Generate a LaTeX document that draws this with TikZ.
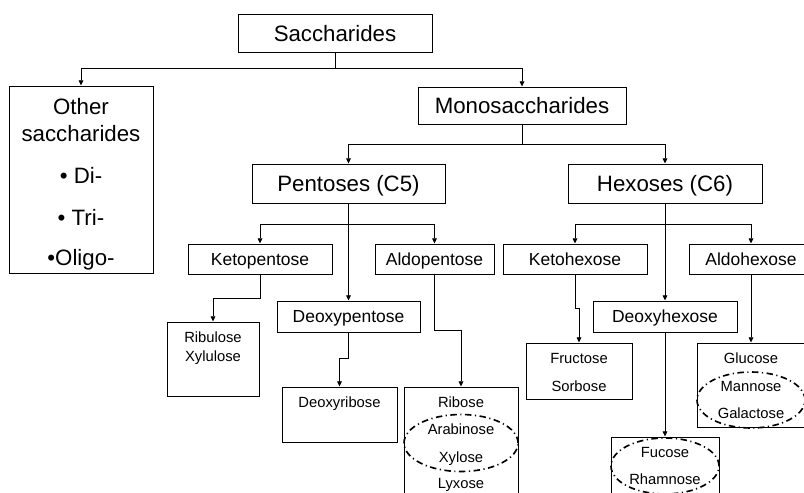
\documentclass[tikz,border=0pt]{standalone}
\usepackage{fontspec}
\setmainfont{Liberation Sans}
\usetikzlibrary{arrows.meta,shapes.geometric}

\begin{document}
\begin{tikzpicture}[x=0.03cm, y=-0.03cm, >={Triangle[length=4.5pt,width=4pt]}, line width=0.8pt,
    big/.style={draw, rectangle, inner sep=0pt, font=\fontsize{19}{23}\selectfont, text height=0.48cm, text depth=0pt},
    bigword/.style={inner sep=0pt, font=\fontsize{19}{23}\selectfont, text height=0.48cm, text depth=0pt},
    mid/.style={draw, rectangle, inner sep=0pt, font=\fontsize{14.9}{18}\selectfont, text height=0.375cm, text depth=0pt, minimum height=0.9cm},
    leaf/.style={draw, rectangle, inner sep=0pt},
    word/.style={inner sep=0pt, font=\fontsize{12.6}{15}\selectfont, text height=0.32cm, text depth=0pt},
    oval/.style={draw, ellipse, inner sep=0pt, line width=1.4pt, dash pattern=on 5.5pt off 3pt on 1pt off 3pt}]

  \useasboundingbox (0,0) rectangle (804,492);

  % top levels
  \node[big, minimum width=5.82cm, minimum height=1.14cm] (sacch) at (335,33) {Saccharides};
  \node[big, minimum width=6.24cm, minimum height=1.11cm] (mono) at (522,105.5) {Monosaccharides};
  \node[big, minimum width=5.79cm, minimum height=1.17cm] (pent) at (348.5,183.5) {Pentoses (C5)};
  \node[big, minimum width=5.82cm, minimum height=1.17cm] (hex) at (665,183.5) {Hexoses (C6)};
  \node[big, minimum width=4.32cm, minimum height=5.61cm] (other) at (81,179.5) {};
  \foreach \word/\y [count=\i] in {Other/106, saccharides/133, {• Di-}/175, {• Tri-}/217, {•Oligo-}/257}
    \node[bigword] (other-\i) at (81,\y) {\word};

  % subgroups
  \node[mid, minimum width=4.32cm] (ketop) at (260,259) {Ketopentose};
  \node[mid, minimum width=3.57cm] (aldop) at (434.5,259) {Aldopentose};
  \node[mid, minimum width=4.29cm, minimum height=0.93cm] (deoxyp) at (348.5,316.5) {Deoxypentose};
  \node[mid, minimum width=4.32cm] (ketoh) at (575,259) {Ketohexose};
  \node[mid, minimum width=3.72cm] (aldoh) at (751,259) {Aldohexose};
  \node[mid, minimum width=4.32cm, minimum height=0.93cm] (deoxyh) at (665,316.5) {Deoxyhexose};

  % leaves
  \node[leaf, minimum width=2.76cm, minimum height=2.22cm] (ribu) at (213,359) {};
  \node[leaf, minimum width=3.45cm, minimum height=1.65cm] (dribo) at (339.5,414.5) {};
  \node[leaf, minimum width=3.42cm, minimum height=3.39cm] (ribo) at (461,443.5) {};
  \node[leaf, minimum width=3.18cm, minimum height=1.68cm] (fruc) at (579,371) {};
  \node[leaf, minimum width=3.24cm, minimum height=2.52cm] (gluc) at (751,385) {};
  \node[leaf, minimum width=3.24cm, minimum height=1.89cm] (fuco) at (665,468.5) {};

  \node[word] (ribulose) at (213,337) {Ribulose};
  \node[word] (xylulose) at (213,356) {Xylulose};
  \node[word] (deoxyribose) at (339.5,402) {Deoxyribose};
  \node[word] (ribose) at (461,402) {Ribose};
  \node[word] (arabinose) at (461,429) {Arabinose};
  \node[word] (xylose) at (461,457) {Xylose};
  \node[word] (lyxose) at (461,483) {Lyxose};
  \node[word] (fructose) at (579,358) {Fructose};
  \node[word] (sorbose) at (579,386) {Sorbose};
  \node[word] (glucose) at (751,358) {Glucose};
  \node[word] (mannose) at (751,386) {Mannose};
  \node[word] (galactose) at (751,413) {Galactose};
  \node[word] (fucose) at (665,452) {Fucose};
  \node[word] (rhamnose) at (665,479) {Rhamnose};

  \node[oval, minimum width=3.42cm, minimum height=1.71cm] (arab-xyl) at (461,443) {};
  \node[oval, minimum width=3.24cm, minimum height=1.68cm] (mann-gal) at (751,400) {};
  \node[oval, minimum width=3.24cm, minimum height=1.68cm] (fuc-rham) at (665,466) {};

  % connectors
  \draw[->] (sacch.south) -- ++(0,16) -| (other.north);
  \draw[->] (sacch.south) -- ++(0,16) -| (mono.north);
  \draw[->] (mono.south) -- ++(0,20) -| (pent.north);
  \draw[->] (mono.south) -- ++(0,20) -| (hex.north);
  \draw[->] (pent.south) -- ++(0,21) -| (ketop.north);
  \draw[->] (pent.south) -- ++(0,21) -| (aldop.north);
  \draw[->] (pent.south) -- (deoxyp.north);
  \draw[->] (hex.south) -- ++(0,21) -| (ketoh.north);
  \draw[->] (hex.south) -- ++(0,21) -| (aldoh.north);
  \draw[->] (hex.south) -- (deoxyh.north);
  \draw[->] (ketop.south) -- ++(0,24) -| (ribu.north);
  \draw[->] (deoxyp.south) -- ++(0,26) -| (dribo.north);
  \draw[->] (aldop.south) -- ++(0,56) -| (ribo.north);
  \draw[->] (ketoh.south) -- ++(0,34) -| (fruc.north);
  \draw[->] (deoxyh.south) -- (fuco.north);
  \draw[->] (aldoh.south) -- (gluc.north);
\end{tikzpicture}
\end{document}
